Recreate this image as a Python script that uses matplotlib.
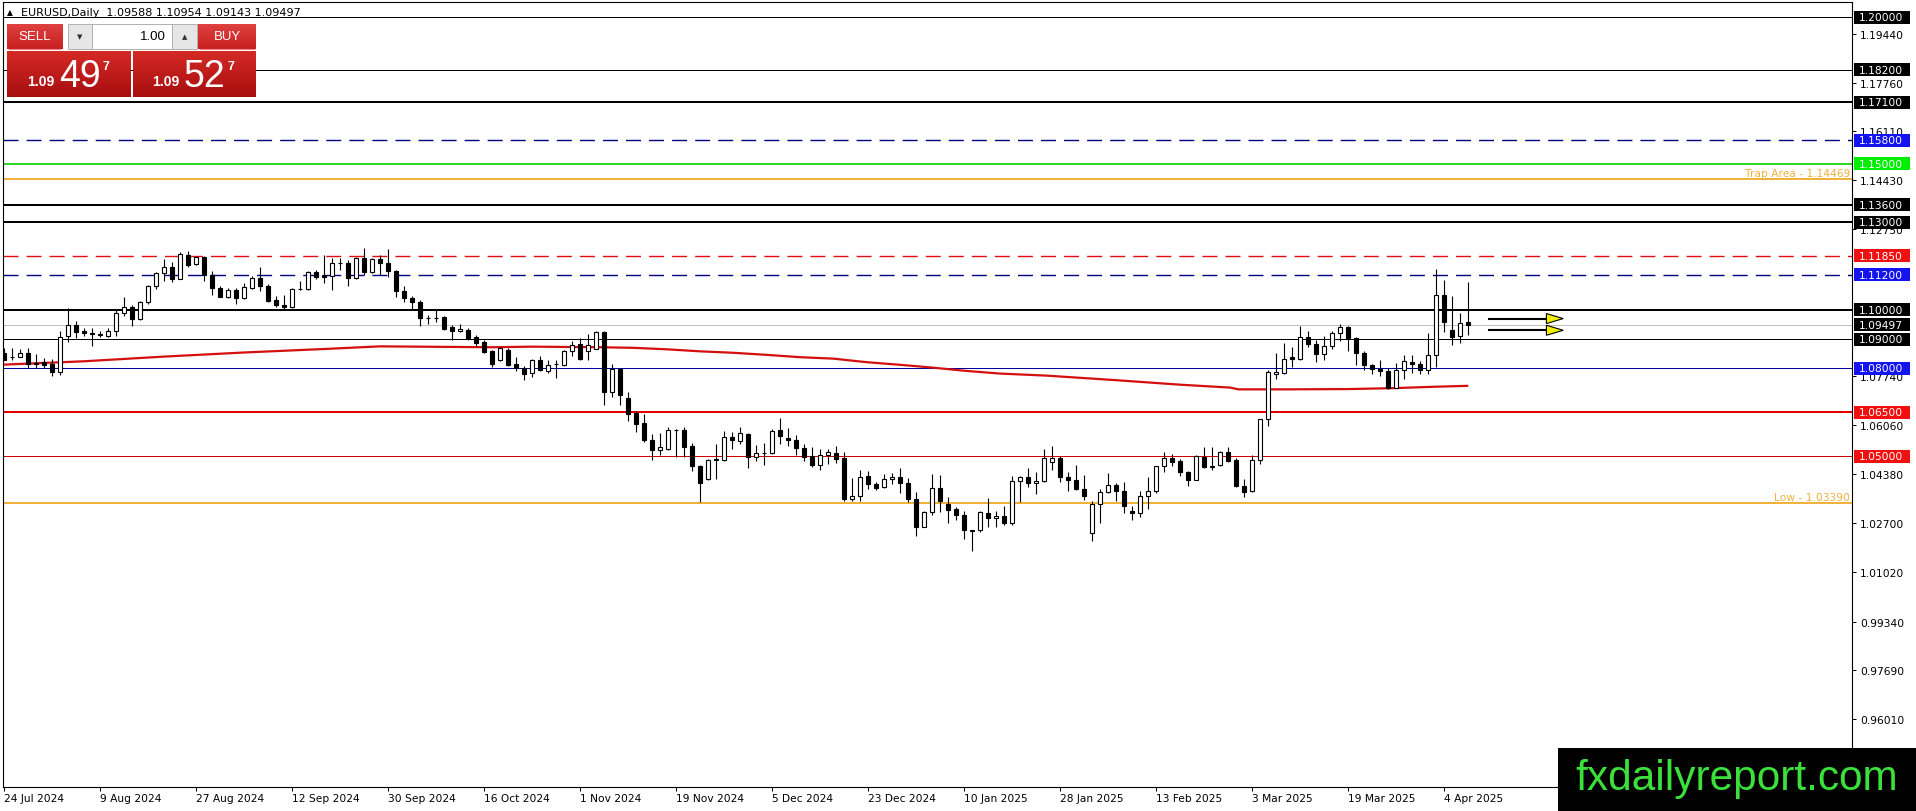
import numpy as np
import matplotlib
matplotlib.use("Agg")
import matplotlib.pyplot as plt
from matplotlib.patches import Rectangle, Polygon

# daily candles, 24 Jul 2024 .. 9 Apr 2025
opens = [1.0852, 1.0840, 1.0840, 1.0852, 1.0815, 1.0820, 1.0815, 1.0786, 1.0909, 1.0948,
         1.0929, 1.0921, 1.0915, 1.0911, 1.0927, 1.0989, 1.1010, 1.0968, 1.1026, 1.1080,
         1.1125, 1.1146, 1.1107, 1.1188, 1.1156, 1.1182, 1.1120, 1.1074, 1.1043, 1.1068,
         1.1042, 1.1074, 1.1108, 1.1082, 1.1034, 1.1017, 1.1008, 1.1070, 1.1071, 1.1129,
         1.1120, 1.1117, 1.1160, 1.1160, 1.1108, 1.1177, 1.1128, 1.1173, 1.1160, 1.1131,
         1.1063, 1.1040, 1.1028, 1.0972, 1.0971, 1.0977, 1.0940, 1.0926, 1.0932, 1.0906,
         1.0889, 1.0860, 1.0829, 1.0862, 1.0815, 1.0801, 1.0783, 1.0828, 1.0792, 1.0813,
         1.0812, 1.0858, 1.0883, 1.0858, 1.0867, 1.0924, 1.0719, 1.0797, 1.0699, 1.0648,
         1.0613, 1.0554, 1.0520, 1.0523, 1.0588, 1.0588, 1.0534, 1.0465, 1.0423, 1.0488,
         1.0487, 1.0564, 1.0550, 1.0576, 1.0497, 1.0510, 1.0510, 1.0588, 1.0562, 1.0556,
         1.0527, 1.0499, 1.0468, 1.0502, 1.0511, 1.0494, 1.0352, 1.0365, 1.0432, 1.0405,
         1.0394, 1.0420, 1.0428, 1.0408, 1.0354, 1.0259, 1.0308, 1.0391, 1.0337, 1.0320,
         1.0299, 1.0246, 1.0246, 1.0307, 1.0287, 1.0296, 1.0270, 1.0416, 1.0430, 1.0407,
         1.0413, 1.0478, 1.0492, 1.0430, 1.0419, 1.0389, 1.0236, 1.0336, 1.0378, 1.0401,
         1.0381, 1.0311, 1.0304, 1.0362, 1.0381, 1.0465, 1.0492, 1.0483, 1.0444, 1.0419,
         1.0498, 1.0463, 1.0469, 1.0513, 1.0485, 1.0397, 1.0380, 1.0485, 1.0628, 1.0782,
         1.0784, 1.0838, 1.0832, 1.0908, 1.0884, 1.0850, 1.0877, 1.0920, 1.0940, 1.0902,
         1.0852, 1.0810, 1.0799, 1.0792, 1.0733, 1.0795, 1.0821, 1.0816, 1.0793, 1.0847,
         1.1050, 1.0931, 1.0911, 1.09588]
highs = [1.0869, 1.0869, 1.0867, 1.0869, 1.0850, 1.0835, 1.0833, 1.0926, 1.1006, 1.0963,
         1.0937, 1.0937, 1.0929, 1.0937, 1.1002, 1.1043, 1.1016, 1.1029, 1.1086, 1.1129,
         1.1174, 1.1162, 1.1196, 1.1202, 1.1183, 1.1185, 1.1131, 1.1080, 1.1074, 1.1074,
         1.1093, 1.1114, 1.1148, 1.1088, 1.1046, 1.1051, 1.1074, 1.1099, 1.1133, 1.1137,
         1.1188, 1.1177, 1.1177, 1.1169, 1.1182, 1.1211, 1.1177, 1.1188, 1.1207, 1.1137,
         1.1080, 1.1046, 1.1034, 1.0983, 1.0998, 1.0979, 1.0949, 1.0952, 1.0937, 1.0914,
         1.0897, 1.0863, 1.0872, 1.0868, 1.0837, 1.0807, 1.0832, 1.0841, 1.0828, 1.0828,
         1.0864, 1.0892, 1.0902, 1.0917, 1.0928, 1.0928, 1.0814, 1.0799, 1.0719, 1.0654,
         1.0645, 1.0577, 1.0580, 1.0599, 1.0594, 1.0599, 1.0545, 1.0468, 1.0491, 1.0541,
         1.0586, 1.0583, 1.0599, 1.0579, 1.0539, 1.0546, 1.0593, 1.0631, 1.0596, 1.0571,
         1.0542, 1.0531, 1.0525, 1.0525, 1.0536, 1.0514, 1.0426, 1.0451, 1.0448, 1.0411,
         1.0440, 1.0443, 1.0460, 1.0426, 1.0377, 1.0311, 1.0440, 1.0436, 1.0360, 1.0326,
         1.0311, 1.0248, 1.0311, 1.0355, 1.0313, 1.0330, 1.0433, 1.0433, 1.0458, 1.0446,
         1.0524, 1.0535, 1.0499, 1.0444, 1.0469, 1.0435, 1.0347, 1.0387, 1.0442, 1.0408,
         1.0412, 1.0330, 1.0381, 1.0430, 1.0467, 1.0513, 1.0507, 1.0490, 1.0450, 1.0503,
         1.0530, 1.0532, 1.0518, 1.0530, 1.0493, 1.0422, 1.0502, 1.0628, 1.0795, 1.0852,
         1.0886, 1.0872, 1.0945, 1.0929, 1.0897, 1.0911, 1.0929, 1.0951, 1.0945, 1.0908,
         1.0858, 1.0815, 1.0829, 1.0801, 1.0818, 1.0846, 1.0846, 1.0824, 1.0922, 1.1140,
         1.1103, 1.1046, 1.0990, 1.10954]
lows = [1.0827, 1.0827, 1.0838, 1.0800, 1.0800, 1.0800, 1.0774, 1.0778, 1.0891, 1.0902,
        1.0912, 1.0877, 1.0907, 1.0907, 1.0909, 1.0979, 1.0945, 1.0966, 1.1021, 1.1071,
        1.1099, 1.1096, 1.1105, 1.1148, 1.1154, 1.1100, 1.1051, 1.1043, 1.1040, 1.1021,
        1.1036, 1.1071, 1.1063, 1.1026, 1.1011, 1.1002, 1.1006, 1.1068, 1.1068, 1.1107,
        1.1093, 1.1066, 1.1137, 1.1080, 1.1105, 1.1120, 1.1126, 1.1120, 1.1112, 1.1043,
        1.1028, 1.1000, 1.0945, 1.0952, 1.0957, 1.0932, 1.0897, 1.0923, 1.0897, 1.0877,
        1.0851, 1.0806, 1.0826, 1.0809, 1.0792, 1.0761, 1.0771, 1.0792, 1.0783, 1.0767,
        1.0809, 1.0843, 1.0828, 1.0828, 1.0865, 1.0673, 1.0702, 1.0676, 1.0619, 1.0582,
        1.0548, 1.0485, 1.0505, 1.0521, 1.0497, 1.0497, 1.0448, 1.0343, 1.0417, 1.0421,
        1.0484, 1.0524, 1.0542, 1.0460, 1.0482, 1.0470, 1.0508, 1.0542, 1.0533, 1.0502,
        1.0482, 1.0462, 1.0454, 1.0474, 1.0477, 1.0345, 1.0348, 1.0345, 1.0386, 1.0383,
        1.0391, 1.0405, 1.0373, 1.0343, 1.0225, 1.0257, 1.0297, 1.0308, 1.0272, 1.0283,
        1.0215, 1.0177, 1.0240, 1.0259, 1.0259, 1.0265, 1.0265, 1.0342, 1.0393, 1.0370,
        1.0410, 1.0453, 1.0412, 1.0381, 1.0385, 1.0351, 1.0210, 1.0271, 1.0373, 1.0347,
        1.0305, 1.0281, 1.0293, 1.0319, 1.0373, 1.0446, 1.0467, 1.0433, 1.0399, 1.0417,
        1.0458, 1.0453, 1.0465, 1.0478, 1.0395, 1.0360, 1.0377, 1.0474, 1.0603, 1.0764,
        1.0782, 1.0804, 1.0829, 1.0872, 1.0820, 1.0829, 1.0866, 1.0892, 1.0858, 1.0812,
        1.0795, 1.0781, 1.0773, 1.0728, 1.0731, 1.0765, 1.0784, 1.0779, 1.0779, 1.0805,
        1.0923, 1.0878, 1.0886, 1.09143]
closes = [1.0829, 1.0840, 1.0852, 1.0815, 1.0817, 1.0811, 1.0786, 1.0907, 1.0948, 1.0925,
          1.0920, 1.0918, 1.0918, 1.0929, 1.0989, 1.1008, 1.0968, 1.1026, 1.1080, 1.1125,
          1.1146, 1.1107, 1.1192, 1.1154, 1.1180, 1.1120, 1.1074, 1.1043, 1.1068, 1.1040,
          1.1078, 1.1108, 1.1080, 1.1031, 1.1015, 1.1008, 1.1072, 1.1071, 1.1129, 1.1112,
          1.1112, 1.1160, 1.1160, 1.1108, 1.1177, 1.1128, 1.1173, 1.1160, 1.1131, 1.1063,
          1.1040, 1.1028, 1.0971, 1.0971, 1.0972, 1.0935, 1.0929, 1.0935, 1.0903, 1.0888,
          1.0857, 1.0815, 1.0868, 1.0812, 1.0801, 1.0780, 1.0828, 1.0794, 1.0812, 1.0815,
          1.0858, 1.0879, 1.0832, 1.0879, 1.0924, 1.0719, 1.0797, 1.0710, 1.0645, 1.0611,
          1.0554, 1.0520, 1.0531, 1.0588, 1.0588, 1.0531, 1.0465, 1.0409, 1.0488, 1.0490,
          1.0564, 1.0555, 1.0580, 1.0497, 1.0510, 1.0511, 1.0586, 1.0568, 1.0554, 1.0527,
          1.0497, 1.0468, 1.0502, 1.0514, 1.0491, 1.0352, 1.0365, 1.0428, 1.0403, 1.0392,
          1.0422, 1.0428, 1.0408, 1.0352, 1.0259, 1.0308, 1.0392, 1.0345, 1.0316, 1.0297,
          1.0246, 1.0245, 1.0308, 1.0287, 1.0296, 1.0270, 1.0416, 1.0430, 1.0408, 1.0413,
          1.0492, 1.0492, 1.0430, 1.0419, 1.0389, 1.0362, 1.0336, 1.0378, 1.0402, 1.0381,
          1.0328, 1.0304, 1.0362, 1.0381, 1.0465, 1.0492, 1.0481, 1.0444, 1.0419, 1.0501,
          1.0461, 1.0465, 1.0513, 1.0484, 1.0397, 1.0377, 1.0485, 1.0625, 1.0788, 1.0787,
          1.0833, 1.0832, 1.0908, 1.0884, 1.0850, 1.0875, 1.0920, 1.0940, 1.0902, 1.0852,
          1.0810, 1.0799, 1.0792, 1.0733, 1.0795, 1.0824, 1.0815, 1.0793, 1.0847, 1.1050,
          1.0957, 1.0906, 1.0954, 1.09497]

date_labels = ["24 Jul 2024", "9 Aug 2024", "27 Aug 2024", "12 Sep 2024", "30 Sep 2024",
               "16 Oct 2024", "1 Nov 2024", "19 Nov 2024", "5 Dec 2024", "23 Dec 2024",
               "10 Jan 2025", "28 Jan 2025", "13 Feb 2025", "3 Mar 2025", "19 Mar 2025",
               "4 Apr 2025"]
bars_per_label = 12

# moving average (red) as read at some bars
ma_bar = [-0.5, 10, 20, 30, 40, 47, 61, 66, 74.5, 78.7, 82.8, 87, 91.2, 95.3, 99.5, 103.7,
          107.8, 112, 116.2, 120.3, 124.5, 130.3, 138.7, 147, 153.3, 154.3, 160.1, 168,
          173.5, 178.9, 182.9]
ma_val = [1.0812, 1.0824, 1.0840, 1.0854, 1.0866, 1.0875, 1.0872, 1.0874, 1.0872, 1.0870,
          1.0865, 1.0858, 1.0853, 1.0846, 1.0838, 1.0833, 1.0821, 1.0812, 1.0802, 1.0791,
          1.0782, 1.0775, 1.0760, 1.0744, 1.0734, 1.0728, 1.0728, 1.0729, 1.0732, 1.0737,
          1.0740]

# horizontal levels
level_price = [1.2000, 1.1820, 1.1710, 1.1580, 1.1500, 1.14469, 1.1360, 1.1300, 1.1185,
               1.1120, 1.1000, 1.09497, 1.0900, 1.0800, 1.0650, 1.0500, 1.0339]
level_color = ["black", "black", "black", "#000080", "#2fd82f", "#f0b23c", "black", "black",
               "#e01010", "#000080", "black", "#c0c0c0", "black", "#0000a0", "#e00000",
               "#d00000", "#f0b23c"]
level_px = [1, 1, 2, 1.4, 2, 2, 2, 2, 1.4, 1.4, 2, 1, 1, 1, 2, 1, 2]
level_dashed = [False, False, False, True, False, False, False, False, True,
                True, False, False, False, False, False, False, False]

# price tags on the right scale
tag_price = [1.2000, 1.1820, 1.1710, 1.1580, 1.1500, 1.1360, 1.1300, 1.1185, 1.1120,
             1.1000, 1.09497, 1.0900, 1.0800, 1.0650, 1.0500]
tag_color = ["black", "black", "black", "#1414f0", "#00ee00", "black", "black", "#f01010",
             "#1414f0", "black", "black", "black", "#1414f0", "#f01010", "#f01010"]

scale_ticks = [1.19440, 1.17760, 1.16110, 1.14430, 1.12750, 1.07740,
               1.06060, 1.04380, 1.02700, 1.01020, 0.99340, 0.97690, 0.96010]

arrow_levels = [1.0970, 1.0930]
arrow_from = 185.6
arrow_to = 194.9

plt.rcParams["lines.scale_dashes"] = False
W_PX, H_PX = 1916, 812
fig = plt.figure(figsize=(W_PX / 100, H_PX / 100), dpi=100)
fig.patch.set_facecolor("white")

L, R, T, B = 2.7, 1852.0, 2.7, 788.0
ax = fig.add_axes([L / W_PX, (H_PX - B) / H_PX, (R - L) / W_PX, (B - T) / H_PX])
ax.set_facecolor("white")
ax_w = R - L
ppx = 1 / 2925.0  # price per pixel

o = np.array(opens)
h = np.array(highs)
l = np.array(lows)
c = np.array(closes)
x = np.arange(len(o))

for p, col, w, d in zip(level_price, level_color, level_px, level_dashed):
    ln = ax.axhline(p, color=col, linewidth=w * 0.72, zorder=2)
    if d:
        ln.set_linestyle((0, (10.8, 5.8)))

ax.plot(ma_bar, ma_val, color="#d40f0f", linewidth=1.6, zorder=2.5, solid_joinstyle="miter")

up = c >= o
body_lo = np.minimum(o, c)
body_h = np.maximum(np.abs(c - o), 0.00002)
ax.vlines(x, l, h, color="black", linewidth=0.8, zorder=3)
ax.bar(x[up], body_h[up], bottom=body_lo[up], width=0.52, facecolor="white",
       edgecolor="black", linewidth=0.8, zorder=4)
ax.bar(x[~up], body_h[~up], bottom=body_lo[~up], width=0.52, facecolor="black",
       edgecolor="black", linewidth=0.8, zorder=4)

# arrows to the right of the last candle
for lev in arrow_levels:
    ax.plot([arrow_from, arrow_to - 2.0], [lev, lev], color="black", linewidth=1.5, zorder=5)
    ax.add_patch(Polygon([[arrow_to - 2.1, lev + 5 * ppx], [arrow_to, lev],
                          [arrow_to - 2.1, lev - 5 * ppx]], closed=True,
                         facecolor="#f2f200", edgecolor="black", linewidth=0.8, zorder=5))

ax.set_xlim((L - 4) / 8, (R - 4) / 8)
ax.set_ylim(1.2 - (B - 18.3) * ppx, 1.2 + (18.3 - T) * ppx)

# right price scale
ax.yaxis.tick_right()
ax.set_yticks(scale_ticks)
ax.set_yticklabels([f"{v:.5f}" for v in scale_ticks])
ax.tick_params(axis="y", direction="out", length=3, width=0.72, pad=3, labelsize=7.7,
               colors="black")

tick_pos = np.arange(len(date_labels)) * bars_per_label
ax.set_xticks(tick_pos)
ax.set_xticklabels(date_labels, ha="left")
ax.tick_params(axis="x", direction="out", length=3, width=0.72, pad=1.5, labelsize=7.7)
for s in ax.spines.values():
    s.set_linewidth(0.8)
    s.set_color("black")

trans = ax.get_yaxis_transform()
for p, col in zip(tag_price, tag_color):
    ax.add_patch(Rectangle((1 + 2 / ax_w, p - 6.5 * ppx), 56 / ax_w, 13 * ppx, transform=trans,
                           facecolor=col, edgecolor="none", clip_on=False, zorder=6))
    ax.text(1 + 7 / ax_w, p, f"{p:.5f}", transform=trans, color="white", fontsize=7.7,
            ha="left", va="center", zorder=7, clip_on=False)

ax.text(1 - 2 / ax_w, 1.14469 + 1.5 * ppx, "Trap Area - 1.14469", transform=trans,
        color="#f0b23c", fontsize=7.7, ha="right", va="bottom", zorder=6)
ax.text(1 - 2 / ax_w, 1.0339 + 1.5 * ppx, "Low - 1.03390", transform=trans,
        color="#f0b23c", fontsize=7.7, ha="right", va="bottom", zorder=6)

# overlay in pixel coordinates for the trade panel, header and watermark
ov = fig.add_axes([0, 0, 1, 1], zorder=10)
ov.set_xlim(0, W_PX)
ov.set_ylim(H_PX, 0)
ov.axis("off")
ov.patch.set_alpha(0)


def grad_box(x0, y0, x1, y1, ctop, cbot):
    a = np.array(matplotlib.colors.to_rgb(ctop))
    b = np.array(matplotlib.colors.to_rgb(cbot))
    t = np.linspace(0, 1, 32)[:, None]
    img = (a * (1 - t) + b * t)[:, None, :]
    ov.imshow(img, extent=(x0, x1, y1, y0), aspect="auto", interpolation="bilinear", zorder=1)


ov.text(7, 13, "\u25b2", fontsize=5.5, va="center", ha="left", color="black")
ov.text(21, 13, "EURUSD,Daily  1.09588 1.10954 1.09143 1.09497", fontsize=8,
        va="center", ha="left", color="black")

grad_box(6.7, 25, 62.3, 50, "#e04040", "#c82020")
grad_box(198, 25, 256, 50, "#e04040", "#c82020")
ov.plot([9, 60], [50, 50], color="#f08080", linewidth=0.8, zorder=2)
ov.plot([200, 254], [50, 50], color="#f08080", linewidth=0.8, zorder=2)
ov.text(34.5, 37.5, "SELL", color="white", fontsize=9.5, ha="center", va="center",
        family="Liberation Sans", zorder=3)
ov.text(227, 37.5, "BUY", color="white", fontsize=9.5, ha="center", va="center",
        family="Liberation Sans", zorder=3)
ov.add_patch(Rectangle((68, 25), 24, 25, facecolor="#e6e6e6", edgecolor="#b0b0b0",
                       linewidth=0.7, zorder=2))
ov.add_patch(Rectangle((172, 25), 25, 25, facecolor="#e6e6e6", edgecolor="#b0b0b0",
                       linewidth=0.7, zorder=2))
ov.add_patch(Rectangle((92, 25), 80, 25, facecolor="white", edgecolor="#b0b0b0",
                       linewidth=0.7, zorder=2))
ov.text(80, 37.5, "\u25bc", fontsize=5, ha="center", va="center", color="#303030", zorder=3)
ov.text(184.5, 37.5, "\u25b2", fontsize=5, ha="center", va="center", color="#303030", zorder=3)
ov.text(166, 37.5, "1.00", fontsize=9.5, ha="right", va="center", color="black",
        family="Liberation Sans", zorder=3)

grad_box(6.7, 52, 130, 98, "#d42a26", "#a80e10")
grad_box(133, 52, 256, 98, "#d42a26", "#a80e10")
for bx, big in [(27, "49"), (152, "52")]:
    ov.text(bx, 86, "1.09", color="white", fontsize=10, fontweight="bold", ha="left",
            va="baseline", family="Liberation Sans", zorder=3)
    ov.text(bx + 32, 87, big, color="white", fontsize=27, ha="left", va="baseline",
            family="Liberation Sans", zorder=3)
    ov.text(bx + 76, 70, "7", color="white", fontsize=9, fontweight="bold", ha="left",
            va="baseline", family="Liberation Sans", zorder=3)

ov.add_patch(Rectangle((1558, 749), W_PX - 1558, H_PX - 749, facecolor="black",
                       edgecolor="none", zorder=2))
ov.text(1575, 790, "fxdailyreport.com", color="#3be03b", fontsize=30.5,
        family="Liberation Sans", ha="left", va="baseline", zorder=3)

fig.savefig("out.png", dpi=100, facecolor="white")
